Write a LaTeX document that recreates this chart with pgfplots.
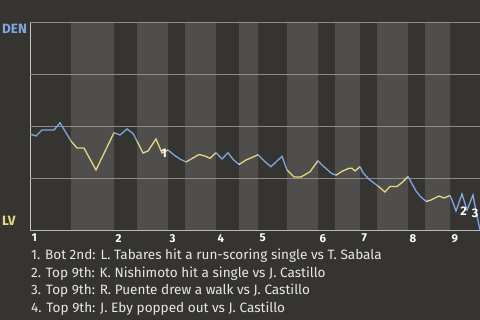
\documentclass[border=0pt]{standalone}
\usepackage{fontspec}
\setmainfont{Fira Sans}
\usepackage{pgfplots}
\pgfplotsset{compat=1.18}
\definecolor{bg}{RGB}{54,52,48}
\definecolor{band}{RGB}{79,78,76}
\definecolor{gridc}{RGB}{140,140,138}
\definecolor{axc}{RGB}{200,200,200}
\definecolor{den}{RGB}{125,168,226}
\definecolor{lv}{RGB}{232,214,128}
\definecolor{txt}{RGB}{232,232,230}
\begin{document}
\begin{tikzpicture}
\fill[bg] (-30bp,-90bp) rectangle (450bp,230bp);
\begin{axis}[
  scale only axis, width=450bp, height=208bp,
  xmin=30, xmax=480, ymin=0, ymax=208,
  axis x line*=bottom, axis y line*=left,
  axis line style={draw=axc, line width=1bp, -},
  xtick={30,114,168,216,258,318,360,408,450},
  xticklabels={1,2,3,4,5,6,7,8,9},
  ytick=\empty,
  major tick length=0pt,
  xticklabel style={anchor=north west, inner sep=0pt, xshift=1.5bp, yshift=-4bp,
    font=\bfseries\fontsize{11.5}{12}\selectfont, text=white},
  clip=true,
]
% inning half bands (bottom halves shaded)
\addplot[ybar interval, fill=band, draw=none] coordinates {
 (30,0) (71,208) (114,0) (137,208) (168,0) (185,208) (216,0) (239,208) (258,0)
 (287,208) (318,0) (335,208) (360,0) (377,208) (408,0) (425,208) (450,0) (480,0)};
% grid lines
\addplot[gridc, line width=0.9bp] coordinates {(30,52) (480,52)};
\addplot[gridc, line width=0.9bp] coordinates {(30,104) (480,104)};
\addplot[gridc, line width=0.9bp] coordinates {(30,156) (480,156)};
\addplot[gridc, line width=0.9bp] coordinates {(30,208) (480,208)};
% win probability line: top halves (DEN batting) blue, bottom halves (LV batting) yellow
\addplot[den, line width=1.3bp] coordinates {(30,96) (36,94) (42,100) (54,100) (60,107.3) (71,89)};
\addplot[lv, line width=1.3bp] coordinates {(71,89) (77,82) (84,82) (96,60) (114,97.3)};
\addplot[den, line width=1.3bp] coordinates {(114,97.3) (120,95) (127,101) (133,96.5) (137,89)};
\addplot[lv, line width=1.3bp] coordinates {(137,89) (143,77) (148,79) (156,91) (162,77) (168,80)};
\addplot[den, line width=1.3bp] coordinates {(168,80) (174,75) (180,71) (186,68)};
\addplot[lv, line width=1.3bp] coordinates {(186,68) (193,72) (199,75.5) (205,74) (210,71.7) (216,77.3)};
\addplot[den, line width=1.3bp] coordinates {(216,77.3) (222,71) (228,77.3) (233,70.7) (239,65.5)};
\addplot[lv, line width=1.3bp] coordinates {(239,65.5) (246,70) (252,72.5) (258,75.3)};
\addplot[den, line width=1.3bp] coordinates {(258,75.3) (265,68.3) (271,63.3) (282,73.7) (287,60)};
\addplot[lv, line width=1.3bp] coordinates {(287,60) (294,53) (301,53) (310,58.3) (318,69.3)};
\addplot[den, line width=1.3bp] coordinates {(318,69.3) (322,65) (326,61.5) (331,57) (336,54.7)};
\addplot[lv, line width=1.3bp] coordinates {(336,54.7) (342,58.7) (349,61.7) (352,61.7) (355,59) (360,63.3)};
\addplot[den, line width=1.3bp] coordinates {(360,63.3) (363,57.3) (369,50.7) (378,44)};
\addplot[lv, line width=1.3bp] coordinates {(378,44) (385,38) (390,43.5) (397,43.5) (403,48.3) (408,53.5)};
\addplot[den, line width=1.3bp] coordinates {(408,53.5) (416,39) (420,34) (426,28.5)};
\addplot[lv, line width=1.3bp] coordinates {(426,28.5) (431,30) (439,34) (444,32) (450,34.5)};
\addplot[den, line width=1.3bp] coordinates {(450,34.5) (452,30) (456,19) (462,36) (467,20) (473,35) (476,19) (480,0)};
% event labels
\node[text=white, font=\bfseries\fontsize{12.5}{12}\selectfont, inner sep=0pt] at (axis cs:164,77) {1};
\node[text=white, font=\bfseries\fontsize{12.5}{12}\selectfont, inner sep=0pt] at (axis cs:463.5,19) {2};
\node[text=white, font=\bfseries\fontsize{12.5}{12}\selectfont, inner sep=0pt] at (axis cs:475,17) {3};
\end{axis}
\node[anchor=west, inner sep=0pt, text=den, font=\bfseries\fontsize{13.5}{14}\selectfont] at (-28bp,201bp) {DEN};
\node[anchor=west, inner sep=0pt, text=lv, font=\bfseries\fontsize{13.5}{14}\selectfont] at (-28bp,9.5bp) {LV};
\begin{scope}[every node/.style={anchor=base west, inner sep=0pt, text=txt, font=\fontsize{13.6}{14}\selectfont}]
\node at (1bp,-29.3bp) {1. Bot 2nd: L. Tabares hit a run-scoring single vs T. Sabala};
\node at (1bp,-47.1bp) {2. Top 9th: K. Nishimoto hit a single vs J. Castillo};
\node at (1bp,-64.9bp) {3. Top 9th: R. Puente drew a walk vs J. Castillo};
\node at (1bp,-82.7bp) {4. Top 9th: J. Eby popped out vs J. Castillo};
\end{scope}
\pgfresetboundingbox
\useasboundingbox (-30bp,-90bp) rectangle (450bp,230bp);
\end{tikzpicture}
\end{document}
